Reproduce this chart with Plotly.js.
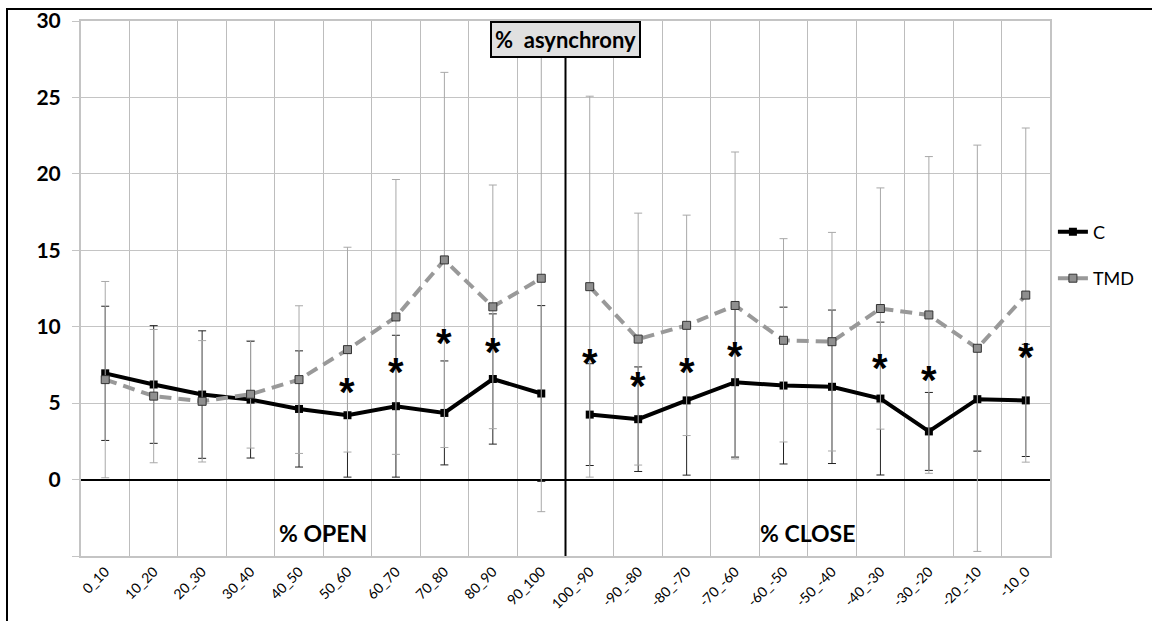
<!DOCTYPE html>
<html>
<head>
<meta charset="utf-8">
<script src="https://cdn.plot.ly/plotly-3.0.1.min.js"></script>
<style>
  html, body { margin: 0; padding: 0; background: #fff; }
  #wrap { position: relative; width: 1152px; height: 621px; overflow: hidden; }
  #frame { position: absolute; left: 6px; top: 8px; width: 1200px; height: 700px;
           border-left: 2px solid #000; border-top: 2px solid #000; pointer-events: none; z-index: 5; }
  #chart { position: absolute; left: 0; top: 0; width: 1152px; height: 621px; }
</style>
</head>
<body>
<div id="wrap">
  <div id="chart"></div>
  <div id="frame"></div>
</div>
<script>
const categories = ['0_10','10_20','20_30','30_40','40_50','50_60','60_70','70_80','80_90','90_100',
                    '100_-90','-90_-80','-80_-70','-70_-60','-60_-50','-50_-40','-40_-30','-30_-20','-20_-10','-10_0'];
const cMean  = [6.95, 6.22, 5.56, 5.23, 4.62, 4.21, 4.80, 4.36, 6.58, 5.63, 4.25, 3.95, 5.18, 6.37, 6.15, 6.07, 5.30, 3.15, 5.26, 5.18];
const cSD    = [4.39, 3.85, 4.17, 3.82, 3.80, 4.05, 4.64, 3.40, 4.26, 5.75, 3.33, 3.42, 4.89, 4.90, 5.13, 5.02, 5.00, 2.55, 3.40, 3.67];
const tmdMean = [6.54, 5.46, 5.12, 5.58, 6.54, 8.50, 10.64, 14.37, 11.30, 13.17, 12.62, 9.19, 10.09, 11.39, 9.11, 9.02, 11.19, 10.77, 8.59, 12.07];
const tmdSD   = [6.42, 4.36, 3.97, 3.52, 4.83, 6.70, 8.99, 12.27, 7.97, 15.27, 12.46, 8.24, 7.21, 10.04, 6.65, 7.15, 7.89, 10.36, 13.29, 10.93];
const starCats = ['50_60','60_70','70_80','80_90','100_-90','-90_-80','-80_-70','-70_-60','-40_-30','-30_-20','-10_0'];
const starY    = [6.3, 7.6, 9.5, 8.95, 8.2, 6.7, 7.65, 8.7, 7.9, 7.1, 8.6];
const yTicks = [-5, 0, 5, 10, 15, 20, 25, 30];
const yTickText = ['', '0', '5', '10', '15', '20', '25', '30'];
const openCount = 10;

const FONT = 'Lato, "Open Sans", "Liberation Sans", sans-serif';

function seriesTraces(name, mean, sd, lineStyle, markerStyle, errColor, group) {
  const parts = [[0, openCount], [openCount, categories.length]];
  return parts.map(([a, b], i) => ({
    name: name, x: categories.slice(a, b), y: mean.slice(a, b), type: 'scatter', mode: 'lines+markers',
    line: lineStyle, marker: markerStyle,
    error_y: { type: 'data', array: sd.slice(a, b), visible: true, color: errColor, thickness: 1, width: 4 },
    legendgroup: group, showlegend: i === 0
  }));
}

const traces = [
  ...seriesTraces('C', cMean, cSD, { color: '#000', width: 4 },
                  { symbol: 'square', size: 8, color: '#000' }, '#222', 'c'),
  ...seriesTraces('TMD', tmdMean, tmdSD, { color: '#999', width: 4, dash: '12px,7px' },
                  { symbol: 'square', size: 8, color: '#8f8f8f', line: { color: '#333', width: 1 } }, '#a8a8a8', 't')
];

const starAnnotations = starCats.map((c, i) => ({
  text: '*', xref: 'x', yref: 'y', x: categories.indexOf(c), y: starY[i], showarrow: false,
  yshift: -9, font: { family: '"Liberation Sans", Arial, sans-serif', size: 40, color: '#000', weight: 'bold' }
}));

const layout = {
  width: 1152, height: 621,
  margin: { l: 81, r: 92, t: 21, b: 65 },
  paper_bgcolor: '#fff', plot_bgcolor: '#fff',
  font: { family: FONT, color: '#000' },
  showlegend: true,
  legend: { x: 1.003, xanchor: 'left', y: 0.64, yanchor: 'top', font: { size: 18, color: '#000' },
            tracegroupgap: 20, bgcolor: 'rgba(0,0,0,0)' },
  xaxis: {
    type: 'category', categoryorder: 'array', categoryarray: categories,
    tickson: 'boundaries', showgrid: true, gridcolor: '#bdbdbd', gridwidth: 1,
    ticks: '', tickangle: -45, tickfont: { size: 14, color: '#000' },
    showline: true, linecolor: '#c4c4c4', linewidth: 2, mirror: true,
    range: [-0.5, categories.length - 0.5], zeroline: false
  },
  yaxis: {
    range: [-5, 30], tickvals: yTicks, ticktext: yTickText,
    tickfont: { size: 21, color: '#000', weight: 'bold' },
    showgrid: true, gridcolor: '#c4c4c4', gridwidth: 1,
    ticks: 'outside', ticklen: 7, tickcolor: '#c4c4c4', ticklabelstandoff: 7,
    zeroline: true, zerolinecolor: '#000', zerolinewidth: 2,
    showline: true, linecolor: '#c4c4c4', linewidth: 2, mirror: true
  },
  shapes: [
    { type: 'line', xref: 'x', yref: 'y', x0: openCount - 0.5, x1: openCount - 0.5, y0: -5, y1: 29,
      line: { color: '#000', width: 2 }, layer: 'above' }
  ],
  annotations: [
    { text: '%&nbsp;&nbsp;asynchrony', xref: 'x', yref: 'paper', x: openCount - 0.5, y: 1, yanchor: 'top',
      showarrow: false, font: { size: 22, color: '#000', weight: 'bold', family: FONT },
      bgcolor: '#e0e0e0', bordercolor: '#000', borderwidth: 2, borderpad: 3 },
    { text: '% OPEN', xref: 'x', yref: 'y', x: (openCount / 2) - 0.5, y: -3.5, showarrow: false,
      font: { size: 23, color: '#000', weight: 'bold', family: FONT } },
    { text: '% CLOSE', xref: 'x', yref: 'y', x: openCount + (categories.length - openCount) / 2 - 0.5, y: -3.5, showarrow: false,
      font: { size: 23, color: '#000', weight: 'bold', family: FONT } },
    ...starAnnotations
  ]
};

Plotly.newPlot('chart', traces, layout, { displayModeBar: false, staticPlot: true });
</script>
</body>
</html>
